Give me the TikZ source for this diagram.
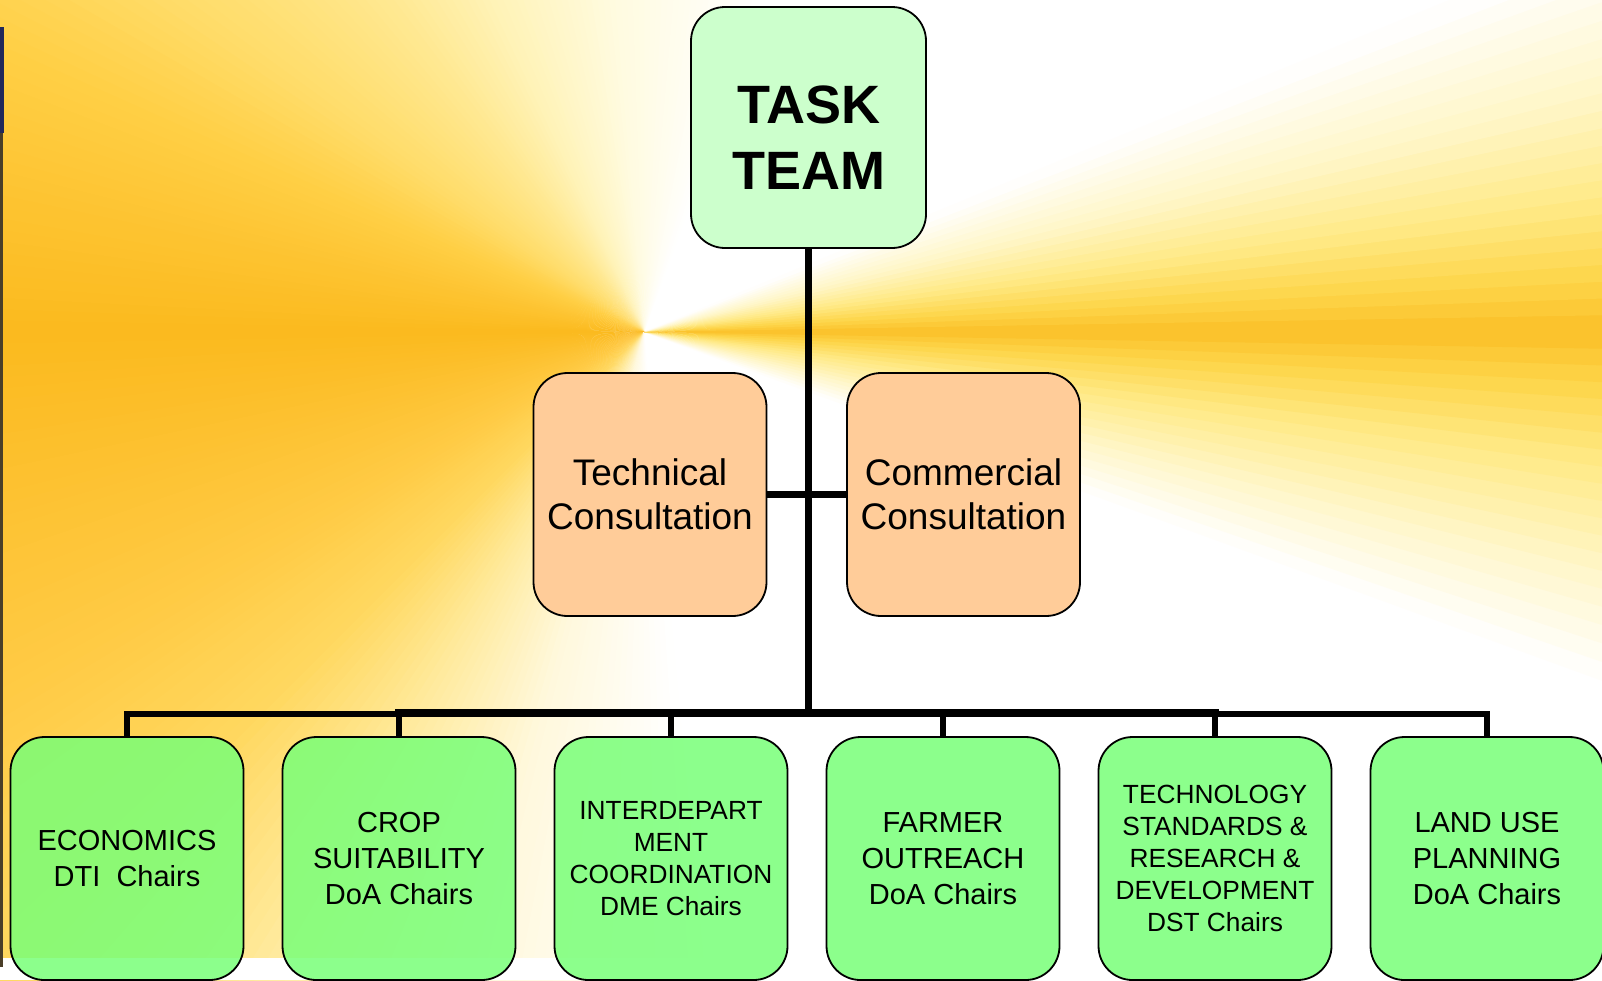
\documentclass[tikz,border=0pt]{standalone}
\usepackage{fontspec}
\setmainfont{Liberation Sans}
\pgfdeclarelayer{bg}
\pgfdeclarelayer{lines}
\pgfsetlayers{bg,lines,main}
\definecolor{k0}{HTML}{FBBF28}
\definecolor{k1}{HTML}{FDD548}
\definecolor{k2}{HTML}{FFEA88}
\definecolor{k3}{HTML}{FFF6C8}
\definecolor{k4}{HTML}{FFFFFF}
\definecolor{k5}{HTML}{FFFBE0}
\definecolor{k6}{HTML}{FFF3B8}
\definecolor{k7}{HTML}{FFE890}
\definecolor{k8}{HTML}{FFDC68}
\definecolor{k9}{HTML}{FFCF45}
\definecolor{k10}{HTML}{FDC22E}
\definecolor{k11}{HTML}{FBBA1E}
\definecolor{k12}{HTML}{FDC232}
\definecolor{k13}{HTML}{FFCB45}
\definecolor{k14}{HTML}{FFD860}
\definecolor{k15}{HTML}{FFEBA0}
\definecolor{k16}{HTML}{FFF8DC}
\definecolor{taskgreen}{HTML}{CCFFCC}
\definecolor{peach}{HTML}{FFCC99}
\definecolor{botgreen}{RGB}{120,255,120}
\definecolor{stripnavy}{HTML}{22285A}
\definecolor{stripbrown}{HTML}{4A3E28}
\tikzset{
  boxbase/.style={draw=black, line width=1.8pt, rounded corners=34pt,
    minimum width=233pt, minimum height=243pt, inner sep=0pt, align=center},
  taskbox/.style={boxbase, fill=taskgreen, minimum width=235pt, minimum height=241pt},
  consultbox/.style={boxbase, fill=peach, font=\fontsize{37}{44}\selectfont},
  unitbox/.style={boxbase, fill=botgreen, fill opacity=0.85, text opacity=1,
    font=\fontsize{29}{36}\selectfont},
  smalltext/.style={font=\fontsize{26.3}{32}\selectfont},
  conn/.style={line width=6.5pt, draw=black},
  stem/.style={line width=6pt, draw=black},
  busthin/.style={line width=6.5pt, draw=black, line cap=rect},
  busthick/.style={line width=8.5pt, draw=black, line cap=rect}
}
\begin{document}
\begin{tikzpicture}[x=1pt,y=-1pt]
\useasboundingbox (0,0) rectangle (1602,980);
\coordinate (ctr) at (644,332);
\begin{pgfonlayer}{bg}
\fill[white] (0,0) rectangle (1602,980);
\foreach \a/\b/\ca/\cb in {0/3/k0/k1, 3/8/k1/k2, 8/14/k2/k3, 14/22/k3/k4,
  70/95/k4/k5, 95/114/k5/k6, 114/128/k6/k7, 128/145/k7/k8, 145/156/k8/k9,
  156/170/k9/k10, 170/180/k10/k11, 180/195/k11/k12, 195/210/k12/k13,
  210/225/k13/k14, 225/240/k14/k15, 240/255/k15/k16, 255/275/k16/k4,
  340/346/k4/k3, 346/352/k3/k2, 352/357/k2/k1, 357/360/k1/k0}{
  \pgfmathtruncatemacro\n{max(1,round((\b-\a)))}
  \foreach \i in {1,...,\n}{
    \pgfmathsetmacro\aa{\a+(\i-1)*(\b-\a)/\n}
    \pgfmathsetmacro\bb{\a+\i*(\b-\a)/\n+0.4}
    \pgfmathsetmacro\p{100*(\i-0.5)/\n}
    \fill[\cb!\p!\ca] (ctr) -- ([shift={(-\aa:2500)}]ctr) -- ([shift={(-\bb:2500)}]ctr) -- cycle;
  }
}
\fill[white] (0,958) rectangle (1602,980);
\fill[stripnavy] (0,27) rectangle (3.5,133);
\fill[stripbrown] (0,133) rectangle (3,967);
\end{pgfonlayer}

% top
\node[taskbox] (task) at (808.5,127.5) {};
\node[font=\fontsize{54}{66}\selectfont\bfseries, align=center] (tasktext) at (808.5,138) {TASK\\TEAM};

% consultations
\node[consultbox] (tech) at (650,494.5) {Technical\\Consultation};
\node[consultbox] (comm) at (963.5,494.5) {Commercial\\Consultation};

% units
\node[unitbox] (u1) at (127,858.5) {ECONOMICS\\DTI\ \ Chairs};
\node[unitbox] (u2) at (399,858.5) {CROP\\SUITABILITY\\DoA Chairs};
\node[unitbox, smalltext] (u3) at (671,858.5) {INTERDEPART\\MENT\\COORDINATION\\DME Chairs};
\node[unitbox] (u4) at (943,858.5) {FARMER\\OUTREACH\\DoA Chairs};
\node[unitbox, smalltext] (u5) at (1215,858.5) {TECHNOLOGY\\STANDARDS \&\\RESEARCH \&\\DEVELOPMENT\\DST Chairs};
\node[unitbox] (u6) at (1487,858.5) {LAND USE\\PLANNING\\DoA Chairs};

\coordinate (bus) at (0,713.75);
\coordinate (busT) at (0,712.75);

\begin{pgfonlayer}{lines}
\draw[conn, line width=7pt] (task.south) -- (task.south |- busT);
\draw[conn] (tech.east) -- (comm.west);
\draw[busthin] (u1.north |- bus) -- (u2.north |- bus);
\draw[busthin] (u5.north |- bus) -- (u6.north |- bus);
\draw[busthick] (u2.north |- busT) -- (u5.north |- busT);
\foreach \u in {u1,u2,u3,u4,u5,u6}{
  \draw[stem] (\u.north) -- (\u.north |- bus);
}
\end{pgfonlayer}
\end{tikzpicture}
\end{document}
